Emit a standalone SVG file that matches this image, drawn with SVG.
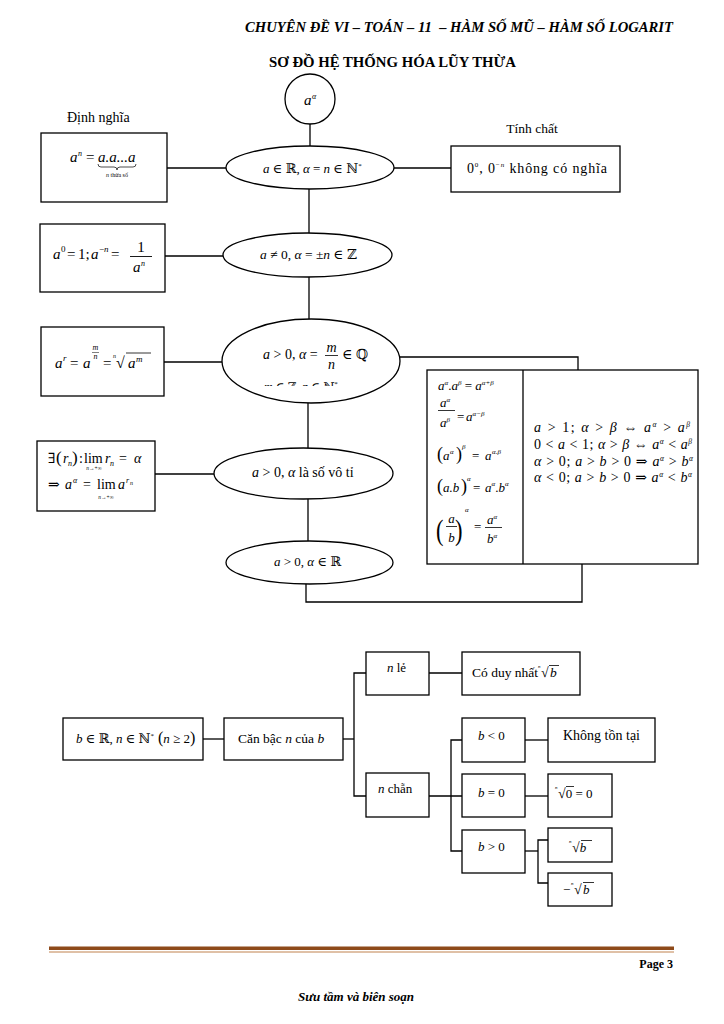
<svg xmlns="http://www.w3.org/2000/svg" width="724" height="1024" viewBox="0 0 724 1024" font-size="13">
<style>
.s{fill:#fff;stroke:#000;stroke-width:1.3}
.c{fill:none;stroke:#000;stroke-width:1.3}
.th{fill:none;stroke:#000;stroke-width:0.7}
text{font-family:'Liberation Serif','DejaVu Serif',serif;fill:#000}
.i{font-style:italic}
.b{font-weight:bold}
</style>
<defs>
<clipPath id="clipM"><rect x="230" y="330" width="170" height="56"/></clipPath>
</defs>
<rect width="724" height="1024" fill="#fff"/>

<g id="header">
<text x="245" y="32" class="b i" font-size="14" xml:space="preserve" textLength="428" lengthAdjust="spacingAndGlyphs">CHUYÊN ĐỀ VI – TOÁN – 11  – HÀM SỐ MŨ – HÀM SỐ LOGARIT</text>
<text x="269" y="67" class="b" font-size="14" textLength="247" lengthAdjust="spacingAndGlyphs">SƠ ĐỒ HỆ THỐNG HÓA LŨY THỪA</text>
<text x="67" y="122" font-size="14">Định nghĩa</text>
<text x="532" y="133" font-size="13.5" text-anchor="middle">Tính chất</text>
</g>

<g id="connectors">
<line class="c" x1="310" y1="124" x2="310" y2="146"/>
<line class="c" x1="167" y1="168" x2="226" y2="168"/>
<line class="c" x1="394" y1="168" x2="451" y2="168"/>
<line class="c" x1="309" y1="189" x2="309" y2="233"/>
<line class="c" x1="165" y1="256" x2="223" y2="256"/>
<line class="c" x1="309" y1="277" x2="309" y2="319"/>
<line class="c" x1="164" y1="362" x2="222" y2="362"/>
<polyline class="c" points="400,357 578,357 578,370"/>
<line class="c" x1="308" y1="403" x2="308" y2="448"/>
<line class="c" x1="155" y1="474" x2="214" y2="474"/>
<line class="c" x1="308" y1="499" x2="308" y2="541"/>
<polyline class="c" points="306,583 306,602 582,602 582,564"/>
<line class="c" x1="203" y1="739" x2="224" y2="739"/>
<line class="c" x1="343" y1="739" x2="354" y2="739"/>
<polyline class="c" points="366,673 354,673 354,796 366,796"/>
<line class="c" x1="429" y1="673" x2="462" y2="673"/>
<line class="c" x1="429" y1="796" x2="462" y2="796"/>
<polyline class="c" points="462,740 451,740 451,851 462,851"/>
<line class="c" x1="525" y1="740" x2="548" y2="740"/>
<line class="c" x1="525" y1="796" x2="548" y2="796"/>
<line class="c" x1="525" y1="851" x2="538" y2="851"/>
<polyline class="c" points="548,840 538,840 538,883 548,883"/>
</g>

<g id="n-root">
<circle class="s" cx="310" cy="99" r="25"/>
<text y="105" font-size="15"><tspan x="304" class="i">a</tspan><tspan x="312" dy="-6" font-size="8" class="i">α</tspan></text>
</g>

<g id="n-def">
<rect class="s" x="41" y="133" width="126" height="69"/>
<text y="162" font-size="15"><tspan x="70" class="i">a</tspan><tspan x="78" dy="-6" font-size="8" class="i">n</tspan><tspan x="86" dy="6">=</tspan><tspan x="98" class="i">a.a...a</tspan></text>
<path class="th" d="M98,164 q0,3 3,3 h13 q3,0 3,3 q0,-3 3,-3 h13 q3,0 3,-3"/>
<text x="117" y="177" font-size="6" text-anchor="middle"><tspan class="i">n</tspan> thừa số</text>
</g>

<g id="n-e1">
<ellipse class="s" cx="310" cy="167.5" rx="84" ry="21.5"/>
<text y="173" font-size="13"><tspan x="263" class="i">a</tspan> ∈ ℝ, <tspan class="i">α</tspan> = <tspan class="i">n</tspan> ∈ ℕ<tspan dy="-5" font-size="7">*</tspan></text>
</g>

<g id="n-prop">
<rect class="s" x="451" y="146" width="169" height="46"/>
<text y="173" font-size="14" textLength="140" lengthAdjust="spacing"><tspan x="467">0</tspan><tspan dy="-6" font-size="7">0</tspan><tspan dy="6">, 0</tspan><tspan dy="-6" font-size="7">−</tspan><tspan font-size="7" class="i">n</tspan><tspan dy="6"> không có nghĩa</tspan></text>
</g>

<g id="n-e2">
<ellipse class="s" cx="307.5" cy="255" rx="84.5" ry="22"/>
<text y="259" font-size="13.5"><tspan x="260" class="i">a</tspan> ≠ 0, <tspan class="i">α</tspan> = ±<tspan class="i">n</tspan> ∈ ℤ</text>
</g>

<g id="n-b2">
<rect class="s" x="40" y="224" width="125" height="68"/>
<text y="259" font-size="15"><tspan x="53" class="i">a</tspan><tspan x="61" dy="-7" font-size="9">0</tspan><tspan x="67" dy="7">=</tspan><tspan x="78">1;</tspan><tspan x="91" class="i">a</tspan><tspan x="99" dy="-7" font-size="9">−</tspan><tspan font-size="9" class="i">n</tspan><tspan x="111" dy="7">=</tspan></text>
<text x="141" y="252" font-size="15" text-anchor="middle">1</text>
<line x1="130" y1="256.5" x2="152" y2="256.5" stroke="#000" stroke-width="0.9"/>
<text y="272" font-size="15"><tspan x="133" class="i">a</tspan><tspan x="141" dy="-6" font-size="8" class="i">n</tspan></text>
</g>

<g id="n-e3">
<ellipse class="s" cx="311" cy="361" rx="89" ry="42"/>
<text y="359" font-size="14"><tspan x="263" class="i">a</tspan> &gt; 0, <tspan class="i">α</tspan> =</text>
<text x="331.5" y="352" font-size="14" class="i" text-anchor="middle">m</text>
<line x1="325" y1="355.5" x2="338" y2="355.5" stroke="#000" stroke-width="0.8"/>
<text x="331.5" y="369" font-size="14" class="i" text-anchor="middle">n</text>
<text x="342" y="359" font-size="14">∈ ℚ</text>
<text y="391" font-size="12" clip-path="url(#clipM)"><tspan x="264" class="i">m</tspan> ∈ ℤ, <tspan class="i">n</tspan> ∈ ℕ<tspan dy="-5" font-size="7">*</tspan></text>
</g>

<g id="n-b3">
<rect class="s" x="41" y="327" width="123" height="69"/>
<text y="368" font-size="15"><tspan x="55" class="i">a</tspan><tspan x="63" dy="-7" font-size="9" class="i">r</tspan><tspan x="70" dy="7">=</tspan><tspan x="83" class="i">a</tspan><tspan x="103">=</tspan><tspan x="116" font-size="16">√</tspan><tspan x="128" class="i">a</tspan><tspan x="136" dy="-6" font-size="9" class="i">m</tspan></text>
<text x="95.5" y="350" font-size="8" class="i" text-anchor="middle">m</text>
<line x1="92" y1="352.5" x2="99" y2="352.5" stroke="#000" stroke-width="0.5"/>
<text x="95.5" y="359" font-size="8" class="i" text-anchor="middle">n</text>
<text x="113" y="358" font-size="6" class="i">n</text>
<line x1="126" y1="353" x2="151" y2="353" stroke="#000" stroke-width="0.8"/>
</g>

<g id="n-e4">
<ellipse class="s" cx="303.5" cy="473.5" rx="89.5" ry="25.5"/>
<text y="477" font-size="14"><tspan x="252" class="i">a</tspan> &gt; 0, <tspan class="i">α</tspan> là số vô tỉ</text>
</g>

<g id="n-b4">
<rect class="s" x="37" y="441" width="118" height="70"/>
<text y="463" font-size="14"><tspan x="48">∃</tspan><tspan x="56" font-size="17">(</tspan><tspan x="63" class="i">r</tspan><tspan x="68" dy="3" font-size="8" class="i">n</tspan><tspan x="72" dy="-3" font-size="17">)</tspan><tspan x="79">:</tspan><tspan x="84">lim</tspan><tspan x="105" class="i">r</tspan><tspan x="110" dy="3" font-size="8" class="i">n</tspan><tspan x="119" dy="-3">=</tspan><tspan x="134" class="i">α</tspan></text>
<text x="94" y="470" font-size="5.5" text-anchor="middle"><tspan class="i">n</tspan>→+∞</text>
<text y="489" font-size="14"><tspan x="48">⇒</tspan><tspan x="65" class="i">a</tspan><tspan x="73" dy="-6" font-size="8" class="i">α</tspan><tspan x="83" dy="6">=</tspan><tspan x="97">lim</tspan><tspan x="118" class="i">a</tspan><tspan x="126" dy="-6" font-size="8" class="i">r</tspan><tspan x="130" dy="2" font-size="6" class="i">n</tspan></text>
<text x="106" y="499" font-size="5.5" text-anchor="middle"><tspan class="i">n</tspan>→+∞</text>
</g>

<g id="n-e5">
<ellipse class="s" cx="309.5" cy="562.5" rx="83.5" ry="21.5"/>
<text y="566" font-size="13"><tspan x="274" class="i">a</tspan> &gt; 0, <tspan class="i">α</tspan> ∈ ℝ</text>
</g>

<g id="n-rules">
<rect class="s" x="427" y="370" width="271" height="194"/>
<line class="c" x1="523" y1="370" x2="523" y2="564"/>
<text y="390" font-size="13"><tspan x="438" class="i">a</tspan><tspan dy="-5" font-size="7" class="i">α</tspan><tspan dy="5">.</tspan><tspan class="i">a</tspan><tspan dy="-5" font-size="7" class="i">β</tspan><tspan dy="5"> = </tspan><tspan class="i">a</tspan><tspan dy="-5" font-size="7" class="i">α+β</tspan></text>
<text y="407" font-size="13"><tspan x="440" class="i">a</tspan><tspan dy="-5" font-size="7" class="i">α</tspan></text>
<line x1="438" y1="410.5" x2="455" y2="410.5" stroke="#000" stroke-width="0.8"/>
<text y="427" font-size="13"><tspan x="440" class="i">a</tspan><tspan dy="-5" font-size="7" class="i">β</tspan></text>
<text y="421" font-size="13"><tspan x="457">=</tspan><tspan x="466" class="i">a</tspan><tspan dy="-5" font-size="7" class="i">α−β</tspan></text>
<text y="460" font-size="13"><tspan x="437" font-size="18">(</tspan><tspan x="443" class="i">a</tspan><tspan x="450" dy="-6" font-size="7" class="i">α</tspan><tspan x="456" dy="6" font-size="18">)</tspan><tspan x="462" dy="-11" font-size="7" class="i">β</tspan><tspan x="472" dy="11">=</tspan><tspan x="485" class="i">a</tspan><tspan x="492" dy="-6" font-size="7" class="i">α.β</tspan></text>
<text y="492" font-size="13"><tspan x="437" font-size="18">(</tspan><tspan x="443" class="i">a.b</tspan><tspan x="461" font-size="18">)</tspan><tspan x="467" dy="-11" font-size="7" class="i">α</tspan><tspan x="473" dy="11">=</tspan><tspan x="485" class="i">a</tspan><tspan dy="-6" font-size="7" class="i">α</tspan><tspan dy="6">.</tspan><tspan class="i">b</tspan><tspan dy="-6" font-size="7" class="i">α</tspan></text>
<text x="436" y="540" font-size="30" transform="translate(436 540) scale(0.75 1) translate(-436 -540)">(</text>
<text x="455" y="540" font-size="30" transform="translate(455 540) scale(0.75 1) translate(-455 -540)">)</text>
<text x="451.5" y="523" font-size="13" class="i" text-anchor="middle">a</text>
<line x1="446" y1="526.5" x2="457" y2="526.5" stroke="#000" stroke-width="0.8"/>
<text x="451.5" y="542" font-size="13" class="i" text-anchor="middle">b</text>
<text x="465" y="512" font-size="7" class="i">α</text>
<text x="474" y="531" font-size="13">=</text>
<text y="524" font-size="13"><tspan x="487" class="i">a</tspan><tspan dy="-5" font-size="7" class="i">α</tspan></text>
<line x1="485" y1="527.5" x2="502" y2="527.5" stroke="#000" stroke-width="0.8"/>
<text y="543" font-size="13"><tspan x="487" class="i">b</tspan><tspan dy="-5" font-size="7" class="i">α</tspan></text>
<text y="432" font-size="14" textLength="156" lengthAdjust="spacing"><tspan x="534" class="i">a</tspan> &gt; 1; <tspan class="i">α</tspan> &gt; <tspan class="i">β</tspan> ⇔ <tspan class="i">a</tspan><tspan dy="-5" font-size="7.5" class="i">α</tspan><tspan dy="5"> &gt; </tspan><tspan class="i">a</tspan><tspan dy="-5" font-size="7.5" class="i">β</tspan></text>
<text y="449" font-size="14" textLength="158" lengthAdjust="spacing"><tspan x="534">0 &lt; </tspan><tspan class="i">a</tspan> &lt; 1; <tspan class="i">α</tspan> &gt; <tspan class="i">β</tspan> ⇔ <tspan class="i">a</tspan><tspan dy="-5" font-size="7.5" class="i">α</tspan><tspan dy="5"> &lt; </tspan><tspan class="i">a</tspan><tspan dy="-5" font-size="7.5" class="i">β</tspan></text>
<text y="466" font-size="14" textLength="159" lengthAdjust="spacing"><tspan x="534" class="i">α</tspan> &gt; 0; <tspan class="i">a</tspan> &gt; <tspan class="i">b</tspan> &gt; 0 ⇒ <tspan class="i">a</tspan><tspan dy="-5" font-size="7.5" class="i">α</tspan><tspan dy="5"> &gt; </tspan><tspan class="i">b</tspan><tspan dy="-5" font-size="7.5" class="i">α</tspan></text>
<text y="482" font-size="14" textLength="158" lengthAdjust="spacing"><tspan x="534" class="i">α</tspan> &lt; 0; <tspan class="i">a</tspan> &gt; <tspan class="i">b</tspan> &gt; 0 ⇒ <tspan class="i">a</tspan><tspan dy="-5" font-size="7.5" class="i">α</tspan><tspan dy="5"> &lt; </tspan><tspan class="i">b</tspan><tspan dy="-5" font-size="7.5" class="i">α</tspan></text>
</g>

<g id="n-A">
<rect class="s" x="63" y="718" width="140" height="42"/>
<text y="743" font-size="13"><tspan x="76" class="i">b</tspan> ∈ ℝ, <tspan class="i">n</tspan> ∈ ℕ<tspan dy="-5" font-size="7">*</tspan><tspan dy="5" font-size="16"> (</tspan><tspan class="i">n</tspan> ≥ 2<tspan font-size="16">)</tspan></text>
</g>
<g id="n-B">
<rect class="s" x="224" y="718" width="119" height="42"/>
<text x="238" y="743" font-size="13.5">Căn bậc <tspan class="i">n</tspan> của <tspan class="i">b</tspan></text>
</g>
<g id="n-le">
<rect class="s" x="366" y="652" width="63" height="43"/>
<text x="387" y="672" font-size="13"><tspan class="i">n</tspan> lẻ</text>
</g>
<g id="n-unique">
<rect class="s" x="462" y="652" width="118" height="43"/>
<text x="472" y="677" font-size="13.5">Có duy nhất</text>
<text x="541" y="677" font-size="14">√</text>
<text x="550" y="677" font-size="13.5" class="i">b</text>
<text x="538" y="668" font-size="5" class="i">n</text>
<line x1="549" y1="665.5" x2="559" y2="665.5" stroke="#000" stroke-width="0.8"/>
</g>
<g id="n-chan">
<rect class="s" x="366" y="773" width="63" height="44"/>
<text x="378" y="793" font-size="13"><tspan class="i">n</tspan> chẵn</text>
</g>
<g id="n-neg">
<rect class="s" x="462" y="718" width="63" height="44"/>
<text x="478" y="740" font-size="13"><tspan class="i">b</tspan> &lt; 0</text>
</g>
<g id="n-none">
<rect class="s" x="548" y="718" width="107" height="44"/>
<text x="601.5" y="740" font-size="14" text-anchor="middle">Không tồn tại</text>
</g>
<g id="n-zero">
<rect class="s" x="462" y="774" width="63" height="43"/>
<text x="478" y="797" font-size="13"><tspan class="i">b</tspan> = 0</text>
</g>
<g id="n-root0">
<rect class="s" x="548" y="774" width="64" height="43"/>
<text x="558" y="798" font-size="13"><tspan font-size="14">√</tspan>0 = 0</text>
<text x="555" y="789" font-size="5" class="i">n</text>
<line x1="566" y1="786.5" x2="574" y2="786.5" stroke="#000" stroke-width="0.8"/>
</g>
<g id="n-pos">
<rect class="s" x="462" y="830" width="63" height="43"/>
<text x="478" y="851" font-size="13"><tspan class="i">b</tspan> &gt; 0</text>
</g>
<g id="n-rootb">
<rect class="s" x="548" y="828" width="64" height="34"/>
<text x="572" y="852" font-size="13"><tspan font-size="14">√</tspan><tspan class="i">b</tspan></text>
<text x="569" y="843" font-size="5" class="i">n</text>
<line x1="581" y1="840.5" x2="592" y2="840.5" stroke="#000" stroke-width="0.8"/>
</g>
<g id="n-negrootb">
<rect class="s" x="548" y="873" width="64" height="33"/>
<text x="563" y="894" font-size="13">−</text>
<text x="574" y="894" font-size="14">√</text>
<text x="583" y="894" font-size="13" class="i">b</text>
<text x="571" y="885" font-size="5" class="i">n</text>
<line x1="583" y1="882.5" x2="594" y2="882.5" stroke="#000" stroke-width="0.8"/>
</g>

<g id="footer">
<rect x="49" y="946.5" width="625" height="3.5" fill="#8e4a1a"/>
<line x1="49" y1="952" x2="674" y2="952" stroke="#c0824f" stroke-width="1"/>
<text x="673" y="968" font-size="12" class="b" text-anchor="end">Page 3</text>
<text x="356" y="1001" font-size="13" class="b i" text-anchor="middle">Sưu tầm và biên soạn</text>
</g>
</svg>
